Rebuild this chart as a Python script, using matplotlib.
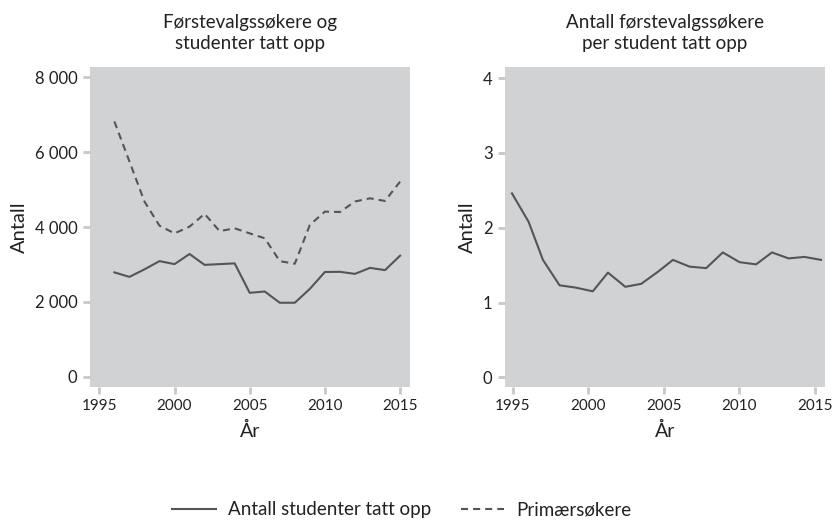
import matplotlib
matplotlib.use("Agg")
import matplotlib.pyplot as plt
from matplotlib.ticker import FuncFormatter

plt.rcParams['font.family'] = ['Lato', 'DejaVu Sans']

# Left panel: applicants and admitted students per year
years = [1996, 1997, 1998, 1999, 2000, 2001, 2002, 2003, 2004, 2005,
         2006, 2007, 2008, 2009, 2010, 2011, 2012, 2013, 2014, 2015]
admitted = [2790, 2670, 2870, 3090, 3010, 3280, 2990, 3010, 3030, 2245,
            2280, 1980, 1980, 2350, 2800, 2805, 2750, 2910, 2850, 3235]
primary = [6815, 5750, 4680, 4035, 3830, 4010, 4350, 3890, 3965, 3830,
           3700, 3090, 3020, 4055, 4410, 4400, 4680, 4765, 4695, 5210]

# Right panel: first-choice applicants per admitted student
ratio_x = [1994.95, 1996.05, 1997.0, 1998.1, 1999.15, 2000.3, 2001.3, 2002.45,
           2003.5, 2004.6, 2005.6, 2006.7, 2007.8, 2008.9, 2010.0, 2011.1,
           2012.15, 2013.25, 2014.3, 2015.4]
ratio = [2.46, 2.08, 1.57, 1.23, 1.20, 1.15, 1.40, 1.21, 1.25, 1.41,
         1.57, 1.48, 1.46, 1.67, 1.54, 1.51, 1.67, 1.59, 1.61, 1.57]

xticks = [1995, 2000, 2005, 2010, 2015]

line_col = '#555555'
panel_col = '#d1d2d4'
tick_col = '#c8c8c8'
text_col = '#222222'

fig = plt.figure(figsize=(8.32, 5.21), dpi=100)
ax1 = fig.add_axes([90 / 832, 134 / 521, 320 / 832, 320 / 521])
ax2 = fig.add_axes([505 / 832, 134 / 521, 320 / 832, 320 / 521])

dash = (0, (3.4, 2.4))
l1, = ax1.plot(years, admitted, color=line_col, lw=1.5,
               label='Antall studenter tatt opp')
l2, = ax1.plot(years, primary, color=line_col, lw=1.5, ls=dash,
               label='Primærsøkere')
ax2.plot(ratio_x, ratio, color=line_col, lw=1.5)

ax1.set_xlim(1994.38, 2015.66)
ax1.set_ylim(-267, 8267)
ax1.set_yticks([0, 2000, 4000, 6000, 8000])
ax1.yaxis.set_major_formatter(FuncFormatter(lambda v, p: f"{int(v):,}".replace(",", " ")))

ax2.set_xlim(1994.49, 2015.66)
ax2.set_ylim(-0.13, 4.15)
ax2.set_yticks([0, 1, 2, 3, 4])

for ax, title in [(ax1, 'Førstevalgssøkere og\nstudenter tatt opp'),
                  (ax2, 'Antall førstevalgssøkere\nper student tatt opp')]:
    ax.set_facecolor(panel_col)
    for s in ax.spines.values():
        s.set_visible(False)
    ax.set_xticks(xticks)
    ax.tick_params(colors=tick_col, width=2, length=5, labelcolor=text_col,
                   pad=4)
    ax.tick_params(axis='x', labelsize=11)
    ax.tick_params(axis='y', labelsize=12)
    ax.set_xlabel('År', fontsize=14, color=text_col, labelpad=6)
    ax.set_ylabel('Antall', fontsize=14.5, color=text_col, labelpad=5)
    ax.set_title(title, fontsize=13.5, color=text_col, pad=13, linespacing=1.25)

fig.legend(handles=[l1, l2], loc='center', bbox_to_anchor=(0.483, 11 / 521),
           ncol=2, frameon=False, fontsize=13.5, handlelength=2.3,
           handletextpad=0.65, columnspacing=1.6, labelcolor=text_col)

fig.savefig('out.png', dpi=100)
